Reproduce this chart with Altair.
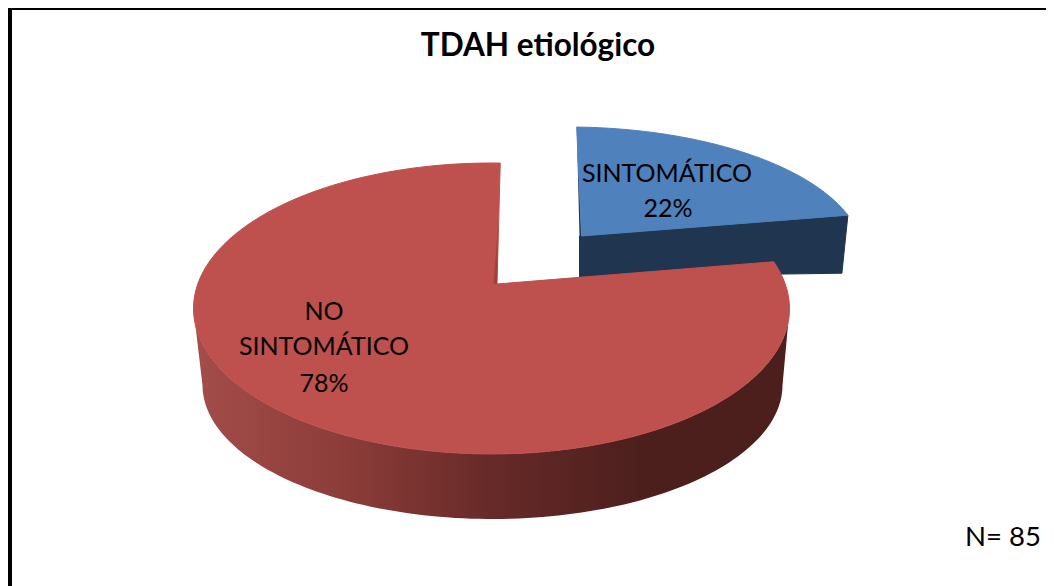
import cmath, math
import altair as alt
import pandas as pd

categories = ["SINTOMÁTICO", "NO SINTOMÁTICO"]
shares = [22, 78]
title_text = "TDAH etiológico"
note_text = "N= 85"

W, H = 1038, 578
FONT = "Lato"
xs = alt.Scale(domain=[8, 1046], range=[0, W], nice=False, zero=False)
ys = alt.Scale(domain=[8, 586], range=[0, H], nice=False, zero=False)

# perspective of the disc: the disc's centre is seen off-centre on the rim ellipse
TILT = complex(0.004, 0.086)
START = 88.5
sweep_blue = 360 * shares[0] / sum(shares)
sweep_red = 360 * shares[1] / sum(shares)

def rim(theta):
    z = cmath.exp(1j * math.radians(theta))
    w = (z + TILT) / (1 + TILT.conjugate() * z)
    return w.real, w.imag

def ell(e, theta):
    u, v = rim(theta)
    return e[0] + e[2] * u, e[1] - e[3] * v

def arc(e, a, b, n=120):
    return [ell(e, a + (b - a) * i / n) for i in range(n + 1)]

RED_TOP = (491.5, 308.5, 298, 145.5)
RED_BOT = (492.5, 385, 290, 134)
RED_APEX = (497, 284)
BLUE_TOP = (568, 257, 295.6, 130)
BLUE_APEX = (581.5, 236)
BLUE_INNER_X = 579.5
BLUE_DEPTH_L, BLUE_DEPTH_R = 41, 58

red_surface = [RED_APEX] + arc(RED_TOP, START, START + sweep_red)
blue_surface = [BLUE_APEX] + arc(BLUE_TOP, START, START - sweep_blue)
br = ell(BLUE_TOP, START - sweep_blue)
bt = ell(BLUE_TOP, START)
blue_wall = [(BLUE_INNER_X, BLUE_APEX[1]), BLUE_APEX, br, (br[0] - 6, br[1] + BLUE_DEPTH_R),
             (BLUE_INNER_X, BLUE_APEX[1] + BLUE_DEPTH_L)]
blue_inner = [bt, (BLUE_INNER_X, BLUE_APEX[1]), BLUE_APEX]
red_wall = arc(RED_TOP, 190, 350) + arc(RED_BOT, 350, 190)
red_inner = [(RED_APEX[0] + 1, 227), RED_APEX, (RED_APEX[0] - 3.5, RED_APEX[1])]

def frame(points):
    return pd.DataFrame({"x": [p[0] for p in points] + [points[0][0]],
                         "y": [p[1] for p in points] + [points[0][1]],
                         "i": range(len(points) + 1)})

def poly(points, fill, edge=1):
    solid = isinstance(fill, str)
    return alt.Chart(frame(points)).mark_line(fill=fill, stroke=fill if solid else None,
                                              strokeWidth=edge if solid else 0).encode(
        x=alt.X("x:Q", scale=xs, axis=None),
        y=alt.Y("y:Q", scale=ys, axis=None),
        order="i:Q")

wall_gradient = alt.Gradient(gradient="linear", x1=0, y1=0, x2=1, y2=0, stops=[
    alt.GradientStop(offset=0, color="#a44d4a"),
    alt.GradientStop(offset=0.27, color="#8a3b38"),
    alt.GradientStop(offset=0.5, color="#672a28"),
    alt.GradientStop(offset=0.75, color="#4c1f1d"),
    alt.GradientStop(offset=1, color="#4c1f1d"),
])

label_rows = [
    (667, 174, "SINTOMÁTICO"), (668, 209, f"{shares[0]}%"),
    (324, 312, "NO"), (324, 347, "SINTOMÁTICO"), (324, 384, f"{shares[1]}%"),
]
labels = alt.Chart(pd.DataFrame(label_rows, columns=["x", "y", "t"])).mark_text(
    font=FONT, fontSize=25, color="#000000", baseline="middle", align="center").encode(
    x=alt.X("x:Q", scale=xs, axis=None), y=alt.Y("y:Q", scale=ys, axis=None), text="t:N")
title = alt.Chart(pd.DataFrame({"x": [538], "y": [47], "t": [title_text]})).mark_text(
    font=FONT, fontSize=31.5, fontWeight="bold", color="#000000", baseline="middle", align="center").encode(
    x=alt.X("x:Q", scale=xs, axis=None), y=alt.Y("y:Q", scale=ys, axis=None), text="t:N")
note = alt.Chart(pd.DataFrame({"x": [1041], "y": [538], "t": [note_text]})).mark_text(
    font=FONT, fontSize=27.5, color="#000000", baseline="middle", align="right").encode(
    x=alt.X("x:Q", scale=xs, axis=None), y=alt.Y("y:Q", scale=ys, axis=None), text="t:N")

border_df = pd.DataFrame({"a": [0]})
top_band = alt.Chart(border_df).mark_rect(color="#000000").encode(
    x=alt.value(0), x2=alt.value(W), y=alt.value(0), y2=alt.value(2))
left_band = alt.Chart(border_df).mark_rect(color="#000000").encode(
    x=alt.value(0), x2=alt.value(4), y=alt.value(0), y2=alt.value(H))

chart = alt.layer(
    poly(blue_wall, "#1f3550"),
    poly(blue_inner, "#1f3550", 0),
    poly(blue_surface, "#4f81bd"),
    poly(red_wall, wall_gradient),
    poly(red_surface, "#be504d"),
    poly(red_inner, "#9e4240", 0),
    labels, title, note, top_band, left_band,
).properties(width=W, height=H, padding=0, background="#ffffff").configure_view(stroke=None)

chart.save("out.html", embed_options={"renderer": "svg", "actions": False})
